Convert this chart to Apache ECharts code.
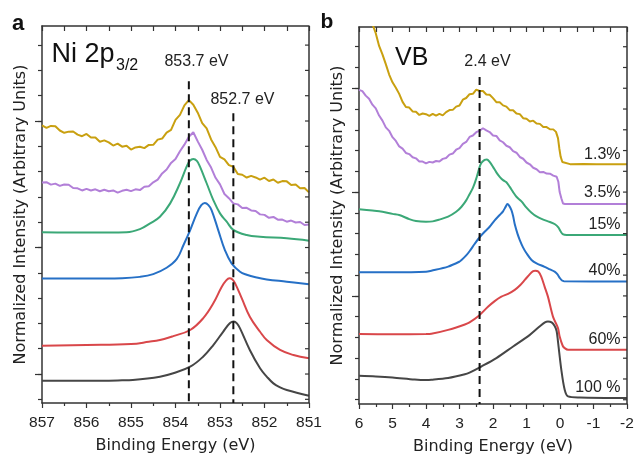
<!DOCTYPE html>
<html><head><meta charset="utf-8">
<script src="https://cdn.jsdelivr.net/npm/echarts@6/dist/echarts.min.js"></script>
<style>html,body{margin:0;padding:0;background:#fff}#c{width:635px;height:454px}</style>
</head><body><div id="c"></div>
<script>
// ---------- DATA ----------
const sampleLabels = ['1.3%', '3.5%', '15%', '40%', '60%', '100 %'];
const xTitle = 'Binding Energy (eV)';
const yTitle = 'Normalized Intensity (Arbitrary Units)';
const rangeA = [851, 857];
const rangeB = [-2, 6];
const yRangeA = [0.771, 3.751];
const yRangeB = [-0.041, 3.59];
const yTicksA = [0.8,1.0,1.2,1.4,1.6,1.8,2.0,2.2,2.4,2.6,2.8,3.0,3.2,3.4,3.6];
const yTicksB = [0,0.2,0.4,0.6,0.8,1.0,1.2,1.4,1.6,1.8,2.0,2.2,2.4,2.6,2.8,3.0,3.2,3.4];
const yMajors = [1, 2, 3];
const peakLinesA = [[[853.7, 3.314], [853.7, 0.771]], [[852.7, 3.061], [852.7, 0.771]]];
const peakLineB = [[2.4, 3.109], [2.4, -0.041]];
const peakTexts = ['853.7 eV', '852.7 eV', '2.4 eV'];

// Panel a: Ni 2p3/2
const a13 = [[857.0,2.965],[856.9,2.946],[856.8,2.961],[856.7,2.959],[856.6,2.925],[856.5,2.907],[856.4,2.916],[856.3,2.917],[856.2,2.892],[856.1,2.880],[856.0,2.898],[855.9,2.869],[855.8,2.870],[855.7,2.836],[855.6,2.847],[855.5,2.831],[855.4,2.806],[855.3,2.821],[855.2,2.797],[855.1,2.805],[855.0,2.774],[854.9,2.791],[854.8,2.797],[854.7,2.786],[854.6,2.811],[854.5,2.812],[854.4,2.853],[854.3,2.861],[854.2,2.908],[854.1,2.930],[854.0,3.009],[853.9,3.048],[853.8,3.124],[853.7,3.165],[853.6,3.129],[853.5,3.066],[853.4,2.984],[853.3,2.941],[853.2,2.854],[853.1,2.793],[853.0,2.717],[852.9,2.696],[852.8,2.651],[852.7,2.639],[852.6,2.581],[852.5,2.575],[852.4,2.553],[852.3,2.566],[852.2,2.554],[852.1,2.537],[852.0,2.552],[851.9,2.526],[851.8,2.538],[851.7,2.512],[851.6,2.525],[851.5,2.523],[851.4,2.494],[851.3,2.498],[851.2,2.469],[851.1,2.471],[851.0,2.436]];
const a35 = [[857.0,2.514],[856.9,2.516],[856.8,2.497],[856.7,2.505],[856.6,2.487],[856.5,2.498],[856.4,2.496],[856.3,2.470],[856.2,2.468],[856.1,2.451],[856.0,2.464],[855.9,2.451],[855.8,2.460],[855.7,2.445],[855.6,2.457],[855.5,2.445],[855.4,2.451],[855.3,2.434],[855.2,2.448],[855.1,2.457],[855.0,2.446],[854.9,2.460],[854.8,2.454],[854.7,2.480],[854.6,2.484],[854.5,2.515],[854.4,2.537],[854.3,2.586],[854.2,2.617],[854.1,2.669],[854.0,2.700],[853.9,2.761],[853.8,2.813],[853.7,2.875],[853.6,2.911],[853.5,2.839],[853.4,2.773],[853.3,2.692],[853.2,2.632],[853.1,2.551],[853.0,2.499],[852.9,2.423],[852.8,2.390],[852.7,2.349],[852.6,2.341],[852.5,2.313],[852.4,2.314],[852.3,2.293],[852.2,2.289],[852.1,2.262],[852.0,2.258],[851.9,2.235],[851.8,2.242],[851.7,2.220],[851.6,2.221],[851.5,2.204],[851.4,2.213],[851.3,2.198],[851.2,2.202],[851.1,2.178],[851.0,2.182]];
const a15 = [[857,2.120],[856.5,2.119],[856,2.118],[855.5,2.118],[855.1,2.120],[854.8,2.145],[854.57,2.191],[854.35,2.243],[854.12,2.349],[853.9,2.508],[853.75,2.639],[853.68,2.685],[853.6,2.700],[853.52,2.685],[853.45,2.639],[853.3,2.508],[853.15,2.375],[853.0,2.270],[852.85,2.204],[852.7,2.140],[852.4,2.099],[852.1,2.085],[851.5,2.073],[851.0,2.054]];
const a40 = [[857,1.755],[856,1.755],[855.2,1.758],[854.8,1.768],[854.5,1.790],[854.2,1.84],[853.97,1.91],[853.82,2.020],[853.67,2.138],[853.52,2.270],[853.42,2.335],[853.34,2.352],[853.26,2.335],[853.19,2.296],[853.04,2.138],[852.89,1.980],[852.74,1.875],[852.55,1.809],[852.40,1.785],[852.2,1.765],[851.95,1.748],[851.5,1.730],[851.0,1.709]];
const a60 = [[857,1.224],[856,1.229],[855.0,1.237],[854.6,1.255],[854.35,1.269],[854.05,1.300],[853.67,1.348],[853.38,1.440],[853.15,1.559],[852.96,1.690],[852.86,1.740],[852.79,1.757],[852.72,1.748],[852.66,1.717],[852.51,1.598],[852.33,1.453],[852.10,1.334],[851.95,1.269],[851.65,1.190],[851.35,1.150],[851.0,1.124]];
const a100 = [[857,0.947],[856,0.947],[855.2,0.950],[854.96,0.953],[854.35,0.979],[854.05,1.006],[853.67,1.058],[853.38,1.137],[853.15,1.229],[852.93,1.334],[852.78,1.401],[852.69,1.415],[852.62,1.400],[852.55,1.361],[852.33,1.190],[852.10,1.045],[851.95,0.980],[851.80,0.926],[851.65,0.895],[851.50,0.874],[851.0,0.828]];

// Panel b: valence band
const b13 = [[5.60,3.62],[5.50,3.530],[5.40,3.408],[5.30,3.326],[5.20,3.232],[5.10,3.132],[5.00,3.057],[4.90,3.004],[4.80,2.946],[4.70,2.869],[4.60,2.820],[4.50,2.814],[4.40,2.777],[4.30,2.774],[4.20,2.743],[4.10,2.757],[4.00,2.750],[3.90,2.734],[3.80,2.754],[3.70,2.737],[3.60,2.753],[3.50,2.739],[3.40,2.770],[3.30,2.790],[3.20,2.792],[3.10,2.823],[3.00,2.834],[2.90,2.890],[2.80,2.906],[2.70,2.943],[2.60,2.946],[2.50,2.987],[2.40,2.974],[2.30,2.974],[2.20,2.940],[2.10,2.938],[2.00,2.905],[1.90,2.866],[1.80,2.865],[1.70,2.835],[1.60,2.823],[1.50,2.789],[1.40,2.789],[1.30,2.757],[1.20,2.751],[1.10,2.712],[1.00,2.706],[0.90,2.680],[0.80,2.688],[0.70,2.661],[0.60,2.657],[0.50,2.626],[0.40,2.626],[0.30,2.605],[0.20,2.604],[0.12,2.58],[0.06,2.52],[0.02,2.42],[-0.02,2.34],[-0.07,2.29],[-0.12,2.272],[-0.30,2.269],[-0.70,2.270],[-1.10,2.268],[-1.50,2.269],[-2.00,2.268]];
const b35 = [[6.0,2.985],[5.9,2.972],[5.8,2.929],[5.7,2.899],[5.6,2.842],[5.5,2.806],[5.4,2.737],[5.3,2.688],[5.2,2.623],[5.1,2.590],[5.0,2.529],[4.9,2.493],[4.8,2.440],[4.7,2.418],[4.6,2.377],[4.5,2.366],[4.4,2.336],[4.3,2.325],[4.2,2.294],[4.1,2.294],[4.0,2.277],[3.9,2.291],[3.8,2.285],[3.7,2.299],[3.6,2.294],[3.5,2.320],[3.4,2.328],[3.3,2.361],[3.2,2.371],[3.1,2.408],[3.0,2.424],[2.9,2.464],[2.8,2.483],[2.7,2.531],[2.6,2.545],[2.5,2.577],[2.4,2.591],[2.3,2.615],[2.2,2.594],[2.1,2.578],[2.0,2.545],[1.9,2.541],[1.8,2.498],[1.7,2.480],[1.6,2.446],[1.5,2.432],[1.4,2.394],[1.3,2.379],[1.2,2.338],[1.1,2.321],[1.0,2.285],[0.9,2.268],[0.8,2.234],[0.7,2.220],[0.6,2.192],[0.5,2.194],[0.4,2.178],[0.3,2.177],[0.2,2.159],[0.1,2.148],[0.05,2.10],[0.01,2.00],[-0.04,1.94],[-0.09,1.89],[-0.15,1.885],[-1.0,1.886],[-2.0,1.885]];
const b15 = [[6.0,1.834],[5.6,1.822],[5.3,1.811],[5.0,1.790],[4.8,1.779],[4.5,1.740],[4.3,1.722],[4.0,1.715],[3.8,1.718],[3.6,1.735],[3.34,1.763],[3.1,1.81],[2.94,1.859],[2.8,1.92],[2.7,1.98],[2.6,2.04],[2.5,2.13],[2.42,2.22],[2.35,2.28],[2.25,2.31],[2.18,2.315],[2.1,2.29],[2.0,2.243],[1.9,2.19],[1.8,2.147],[1.7,2.115],[1.6,2.095],[1.5,2.05],[1.4,2.00],[1.3,1.955],[1.15,1.91],[1.0,1.85],[0.85,1.80],[0.7,1.765],[0.5,1.735],[0.3,1.712],[0.15,1.69],[0.05,1.66],[-0.02,1.62],[-0.08,1.595],[-0.2,1.587],[-2,1.587]];
const b40 = [[6.0,1.228],[5.0,1.228],[4.0,1.233],[3.84,1.243],[3.34,1.282],[3.0,1.33],[2.94,1.345],[2.80,1.39],[2.70,1.43],[2.55,1.50],[2.40,1.565],[2.25,1.618],[2.10,1.666],[1.95,1.728],[1.80,1.779],[1.70,1.815],[1.62,1.86],[1.57,1.885],[1.52,1.87],[1.45,1.827],[1.40,1.77],[1.35,1.69],[1.27,1.60],[1.20,1.538],[1.10,1.465],[1.00,1.411],[0.85,1.346],[0.70,1.314],[0.46,1.280],[0.30,1.255],[0.16,1.234],[0.08,1.21],[0.0,1.17],[-0.06,1.148],[-0.12,1.142],[-2,1.138]];
const b60 = [[6.0,0.632],[5.0,0.630],[4.0,0.632],[3.84,0.635],[3.34,0.673],[2.84,0.725],[2.70,0.745],[2.45,0.801],[2.15,0.895],[1.95,0.95],[1.75,0.993],[1.55,1.02],[1.35,1.058],[1.20,1.10],[1.05,1.154],[0.90,1.21],[0.80,1.238],[0.74,1.243],[0.65,1.235],[0.56,1.186],[0.46,1.09],[0.36,0.993],[0.21,0.801],[0.06,0.690],[0.01,0.609],[-0.08,0.52],[-0.14,0.497],[-0.24,0.481],[-2,0.481]];
const b100 = [[6.0,0.231],[5.5,0.225],[5.0,0.215],[4.34,0.195],[4.0,0.190],[3.84,0.192],[3.34,0.209],[2.84,0.245],[2.70,0.262],[2.35,0.320],[1.90,0.401],[1.40,0.513],[0.90,0.625],[0.61,0.705],[0.45,0.745],[0.36,0.753],[0.25,0.745],[0.16,0.710],[0.10,0.66],[0.06,0.56],[-0.04,0.288],[-0.14,0.096],[-0.24,0.032],[-0.59,0.022],[-2,0.016]];

// ---------- STYLE / LAYOUT ----------
const colors = ['#c9a010', '#b27fd8', '#3ba877', '#2670c6', '#d9474a', '#464646'];
const AX = '#333';
const FONT = 'Liberation Sans';
const chart = echarts.init(document.getElementById('c'));

function xAxisDef(g, r, pos) {
  const bottom = pos === 'bottom';
  const o = {type:'value', gridIndex:g, min:r[0], max:r[1], inverse:true, interval:1, position:pos,
    axisLine:{show:true, onZero:false, lineStyle:{color:AX, width:1.5}},
    axisTick:{show:true, inside:!bottom, length:5, lineStyle:{color:AX, width:1.2}},
    minorTick:{show:true, splitNumber:2, length:bottom ? 3 : 5, lineStyle:{color:AX, width:1.2}},
    splitLine:{show:false}, minorSplitLine:{show:false},
    axisLabel:{show:bottom, color:'#222', fontSize:15.5, fontFamily:FONT, margin:12, showMinLabel:true, showMaxLabel:true}};
  if (bottom) Object.assign(o, {name:xTitle, nameLocation:'middle', nameGap:35,
    nameTextStyle:{fontSize:16, fontFamily:'DejaVu Sans', color:'#222'}});
  return o;
}
function yAxisDef(g, r, ticks, len, showLine) {
  const o = {type:'value', gridIndex:g, min:r[0], max:r[1], position:'left',
    axisLine:{show:showLine, onZero:false, lineStyle:{color:AX, width:1.5}},
    axisTick:{show:true, inside:false, length:len, customValues:ticks, lineStyle:{color:AX, width:1.2}},
    axisLabel:{show:false}, splitLine:{show:false}};
  if (showLine) Object.assign(o, {name:yTitle, nameLocation:'middle', nameGap:13, nameRotate:90,
    nameTextStyle:{fontSize:16, fontFamily:'DejaVu Sans', color:'#222'}});
  return o;
}
function line(data, color, xi, yi, smooth) {
  return {type:'line', data:data, xAxisIndex:xi, yAxisIndex:yi, showSymbol:false, symbol:'none',
    smooth:smooth, lineStyle:{color:color, width:2}, silent:true};
}
function dash(data, xi, yi) {
  return {type:'line', data:data, xAxisIndex:xi, yAxisIndex:yi, showSymbol:false, symbol:'none',
    lineStyle:{color:'#111', width:2, type:[8,5]}, silent:true};
}

const series = [
  line(a13, colors[0], 0, 0, false), line(a35, colors[1], 0, 0, false),
  line(a15, colors[2], 0, 0, 0.4), line(a40, colors[3], 0, 0, 0.4),
  line(a60, colors[4], 0, 0, 0.4), line(a100, colors[5], 0, 0, 0.4),
  dash(peakLinesA[0], 0, 0), dash(peakLinesA[1], 0, 0),
  line(b13, colors[0], 2, 2, false), line(b35, colors[1], 2, 2, false),
  line(b15, colors[2], 2, 2, 0.3), line(b40, colors[3], 2, 2, 0.3),
  line(b60, colors[4], 2, 2, 0.3), line(b100, colors[5], 2, 2, 0.3),
  dash(peakLineB, 2, 2)
];

chart.setOption({
  animation:false,
  backgroundColor:'#fff',
  grid:[
    {left:42, top:26, width:267, height:377, outerBoundsMode:'none'},
    {left:359, top:27, width:268, height:377, outerBoundsMode:'none'}
  ],
  xAxis:[xAxisDef(0, rangeA, 'bottom'), xAxisDef(0, rangeA, 'top'), xAxisDef(1, rangeB, 'bottom'), xAxisDef(1, rangeB, 'top')],
  yAxis:[yAxisDef(0, yRangeA, yTicksA, 4, true), yAxisDef(0, yRangeA, yMajors, 7, false),
         yAxisDef(1, yRangeB, yTicksB, 4, true), yAxisDef(1, yRangeB, yMajors, 7, false)],
  series:series
});

// right-hand frame edge and its inward ticks, placed through the axes' own scales
function rightEdge(xi, yi, xr, yr, ticks) {
  const f = {xAxisIndex:xi, yAxisIndex:yi};
  const p0 = chart.convertToPixel(f, [xr[0], yr[0]]);
  const p1 = chart.convertToPixel(f, [xr[0], yr[1]]);
  const els = [{type:'line', silent:true, z:100, shape:{x1:p0[0], y1:p0[1], x2:p1[0], y2:p1[1]},
    style:{stroke:AX, lineWidth:1.5}}];
  ticks.forEach(v => {
    const p = chart.convertToPixel(f, [xr[0], v]);
    els.push({type:'line', silent:true, z:100, shape:{x1:p[0] - 4, y1:p[1], x2:p[0], y2:p[1]},
      style:{stroke:AX, lineWidth:1.2}});
  });
  return els;
}

// annotation texts
const pctY = [154.5, 192.8, 224.4, 271, 339.5, 387.7];
const txt = (x, y, s, size, extra) => ({type:'text', x:x, y:y, silent:true, z:100,
  style:Object.assign({text:s, font:size + 'px "' + FONT + '"', fill:'#222', textAlign:'center', textVerticalAlign:'middle'}, extra || {})});
const graphics = [
  txt(18, 24, 'a', 22, {font:'bold 22px "' + FONT + '"', fill:'#111'}),
  txt(327, 22, 'b', 21, {font:'bold 21px "' + FONT + '"', fill:'#111'}),
  txt(51.5, 54.5, 'Ni 2p', 27, {textAlign:'left', fill:'#111'}),
  txt(116, 65.2, '3/2', 16, {textAlign:'left', fill:'#111'}),
  txt(196.5, 61.2, peakTexts[0], 16),
  txt(242.5, 99.4, peakTexts[1], 16),
  txt(487.5, 61.2, peakTexts[2], 16),
  txt(395, 58.5, 'VB', 25, {textAlign:'left', fill:'#111'})
].concat(rightEdge(0, 0, rangeA, yRangeA, yTicksA), rightEdge(2, 2, rangeB, yRangeB, yTicksB));
sampleLabels.forEach((s, i) => graphics.push(txt(620.5, pctY[i], s, 16, {textAlign:'right'})));
chart.setOption({graphic:graphics});
</script></body></html>
